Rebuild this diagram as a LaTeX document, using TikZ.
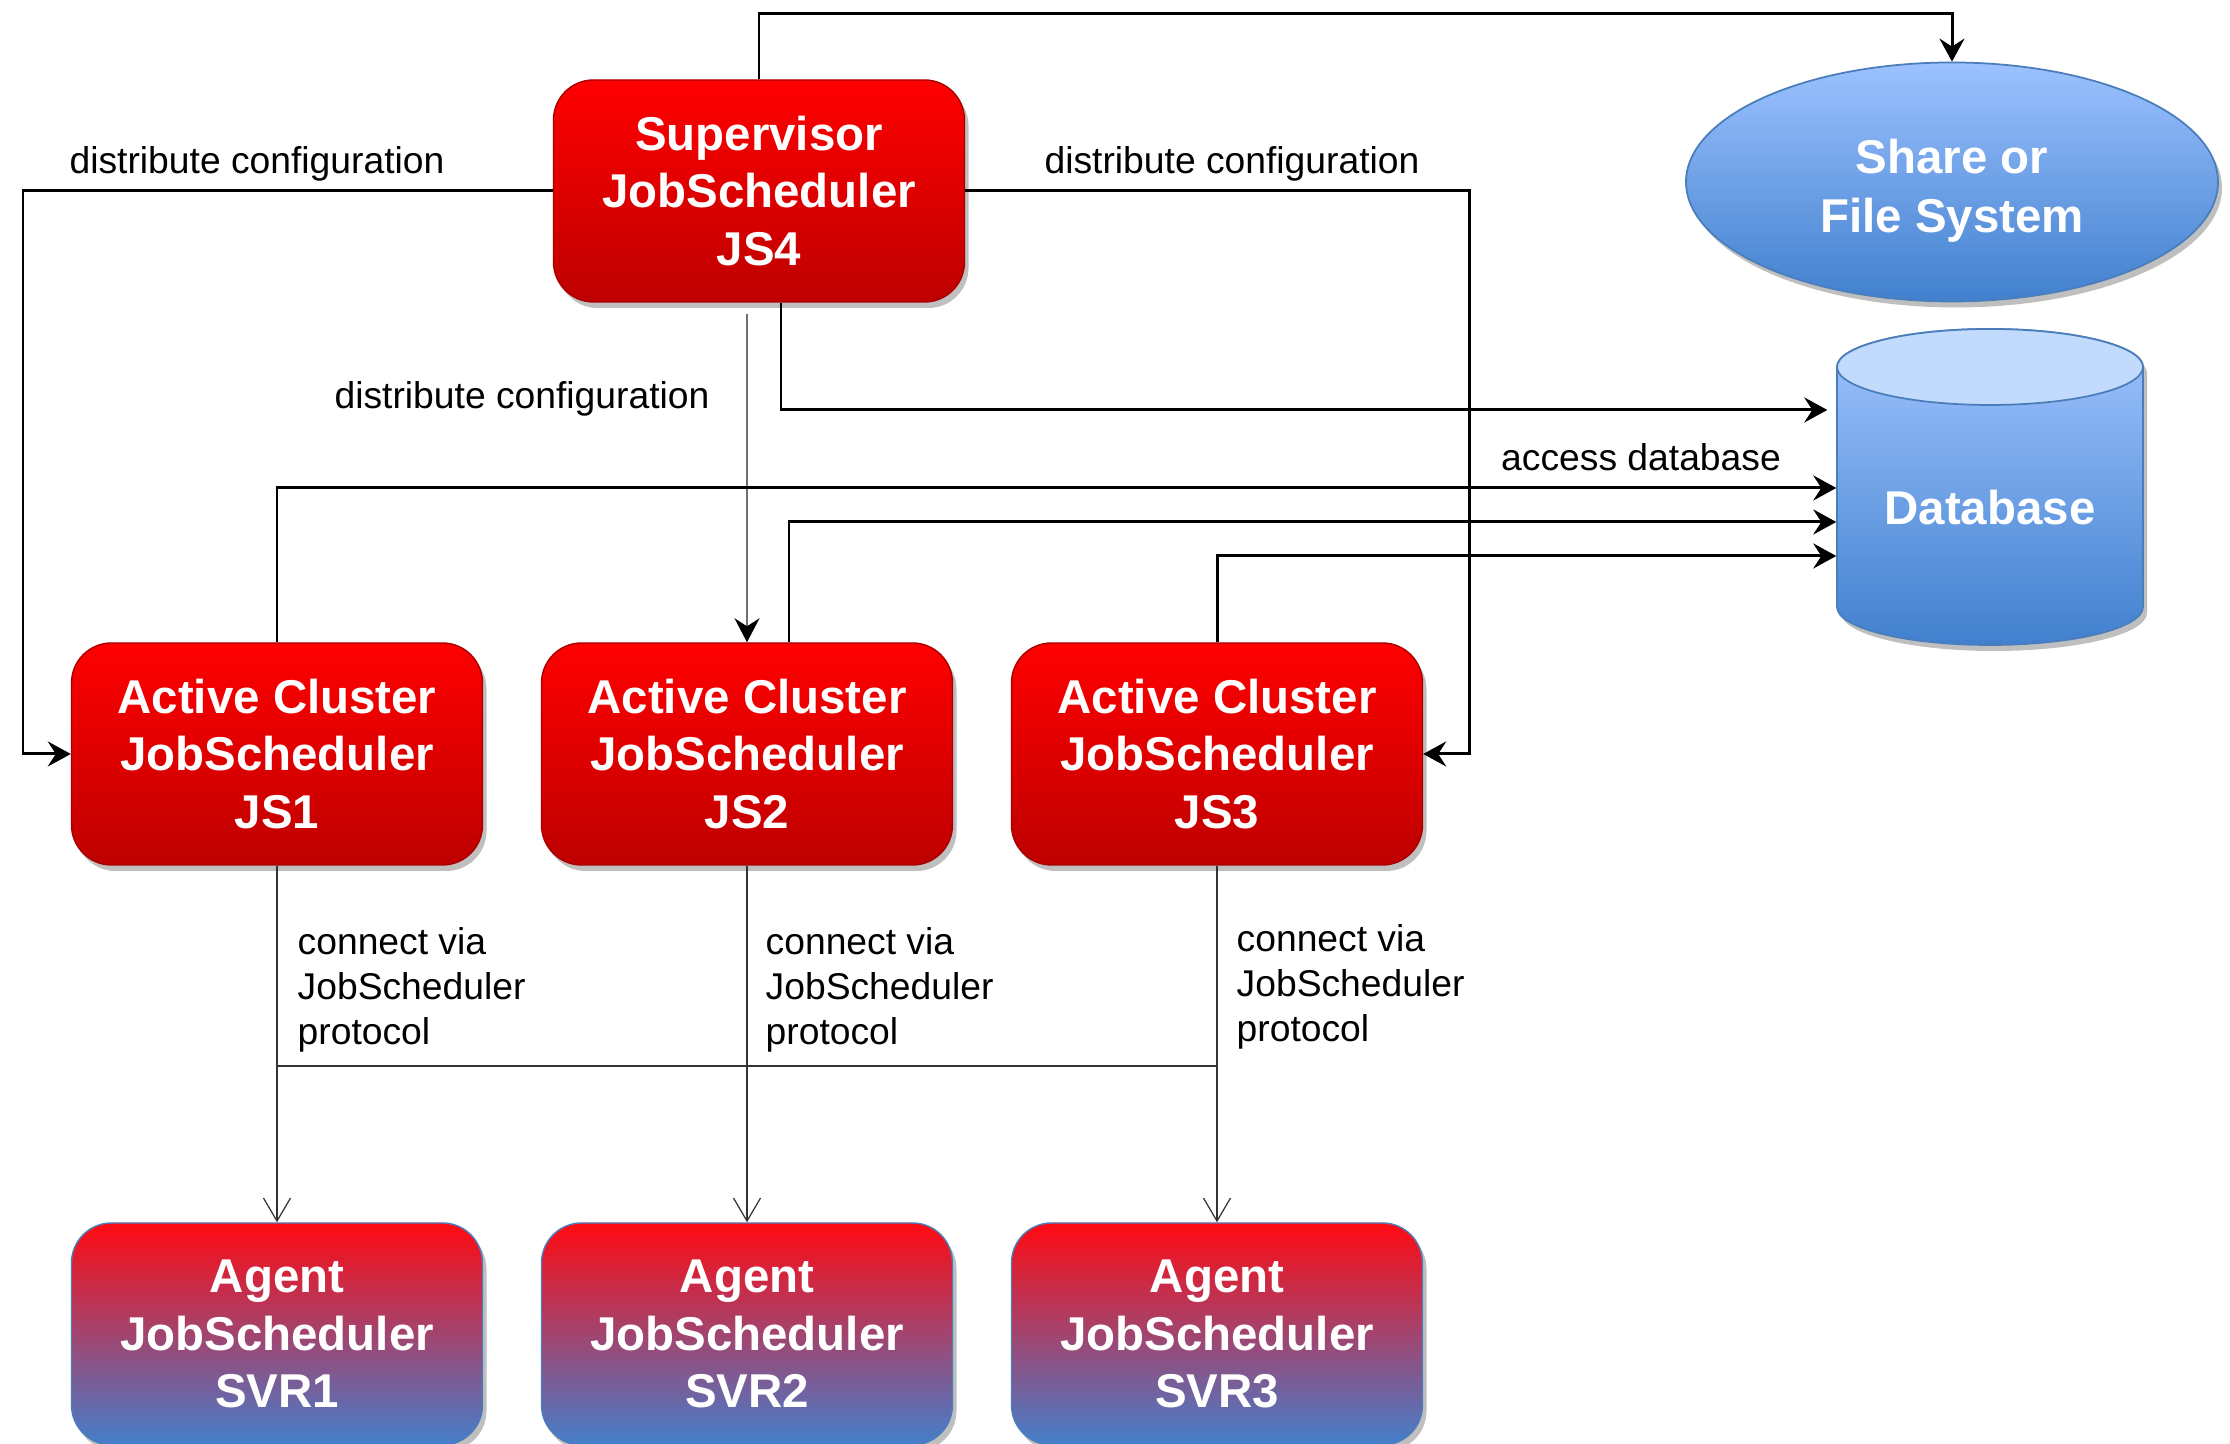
\documentclass[tikz,border=0pt]{standalone}
\usepackage{fontspec}
\setmainfont{Liberation Sans}
\usetikzlibrary{arrows.meta,shapes.geometric,shadows}

\definecolor{jsTop}{HTML}{FF0000}
\definecolor{jsBot}{HTML}{BE0000}
\definecolor{jsLine}{HTML}{A80000}
\definecolor{agTop}{HTML}{FF0A12}
\definecolor{agBot}{HTML}{447FCC}
\definecolor{blLine}{HTML}{4A7EBB}
\definecolor{fsTop}{HTML}{9CC2FF}
\definecolor{fsBot}{HTML}{4180CE}
\definecolor{dbCap}{HTML}{C2DAFB}
\definecolor{thinGray}{HTML}{707070}

\tikzset{
  shadowed/.style={drop shadow={shadow xshift=0.04cm, shadow yshift=-0.06cm, opacity=0.25, fill=black}},
  jsbox/.style={rectangle, rounded corners=0.4cm, minimum width=4.11cm, minimum height=2.22cm,
    top color=jsTop, bottom color=jsBot, draw=jsLine, line width=0.4pt, text=white, align=center,
    font=\bfseries\fontsize{13.5}{16.3}\selectfont, shadowed},
  agbox/.style={jsbox, top color=agTop, bottom color=agBot, draw=blLine},
  lbl/.style={font=\fontsize{10.6}{12.8}\selectfont, inner sep=0pt},
  arr/.style={line width=0.85pt, -{Stealth[length=2.3mm, width=2.5mm, inset=0.8mm]}},
  thinarr/.style={draw=thinGray, line width=0.45pt, -{Stealth[length=2.4mm, width=2.5mm, inset=0.8mm, color=black]}},
  busarr/.style={draw=black!80, line width=0.35pt, -{Straight Barb[length=2.3mm, width=2.7mm, line width=0.35pt]}},
}

\begin{document}
\begin{tikzpicture}
\useasboundingbox (0,0) rectangle (22.30,14.44);

% rails and levels
\coordinate (topline) at (0,14.30);
\coordinate (leftrail) at (0.23,0);
\coordinate (rightrail) at (14.69,0);
\coordinate (lvlS) at (0,10.34);
\coordinate (lvlA) at (0,9.56);
\coordinate (lvlB) at (0,9.22);
\coordinate (lvlC) at (0,8.88);
\coordinate (bus) at (0,3.78);

% supervisor and cluster
\node[jsbox] (sup) at (7.59,12.53) {Supervisor\\JobScheduler\\JS4};
\node[jsbox] (js1) at (2.77,6.90) {Active Cluster\\JobScheduler\\JS1};
\node[jsbox] (js2) at (7.47,6.90) {Active Cluster\\JobScheduler\\JS2};
\node[jsbox] (js3) at (12.17,6.90) {Active Cluster\\JobScheduler\\JS3};

% agents
\node[agbox] (ag1) at (2.77,1.10) {Agent\\JobScheduler\\SVR1};
\node[agbox] (ag2) at (7.47,1.10) {Agent\\JobScheduler\\SVR2};
\node[agbox] (ag3) at (12.17,1.10) {Agent\\JobScheduler\\SVR3};

% file system
\node[ellipse, minimum width=5.32cm, minimum height=2.39cm, inner sep=0pt,
  top color=fsTop, bottom color=fsBot, draw=blLine, line width=0.5pt, shadowed,
  text=white, align=center, font=\bfseries\fontsize{13.5}{17}\selectfont]
  (fs) at (19.52,12.62) {\rule{0pt}{0.52cm}Share or\\File System};

% database
\shadedraw[top color=fsTop!95!white, bottom color=fsBot, draw=blLine, line width=0.5pt, shadowed]
  (18.37,10.77) -- (18.37,8.37) arc[start angle=180, end angle=360, x radius=1.53, y radius=0.38]
  -- (21.43,10.77) arc[start angle=0, end angle=180, x radius=1.53, y radius=0.38] -- cycle;
\filldraw[fill=dbCap, draw=blLine, line width=0.5pt] (19.90,10.77) ellipse[x radius=1.53, y radius=0.38];
\node[minimum width=3.06cm, inner sep=0pt, text=white, font=\bfseries\fontsize{13.5}{16.3}\selectfont]
  (db) at (19.90,9.36) {Database};

%-------------------------------------
\draw[arr] (sup.north) -- (sup.north |- topline) -| (fs.north);
\draw[arr] (sup.west) -- (sup.west -| leftrail) |- (js1.west);
\draw[arr] (sup.east) -- (sup.east -| rightrail) |- (js3.east);
\draw[thinarr] ([yshift=-0.11cm]sup.south -| js2.north) -- (js2.north);
\draw[arr] ([xshift=0.22cm]sup.south) |- ([xshift=-0.09cm]db.west |- lvlS);
\draw[arr] (js1.north) |- (db.west |- lvlA);
\draw[arr] ([xshift=0.42cm]js2.north) |- (db.west |- lvlB);
\draw[arr] (js3.north) |- (db.west |- lvlC);

\node[lbl] (dc1) at (2.57,12.80) {distribute configuration};
\node[lbl] (dc2) at (12.32,12.80) {distribute configuration};
\node[lbl] (dc3) at (5.22,10.45) {distribute configuration};
\node[lbl] (acc) at (16.41,9.87) {access database};

%-------------------------------------
\draw[busarr] (js1.south) -- (ag1.north);
\draw[busarr] (js2.south) -- (ag2.north);
\draw[busarr] (js3.south) -- (ag3.north);
\draw[draw=black!80, line width=0.35pt] (js1.south |- bus) -- (js3.south |- bus);

\node[lbl, anchor=west, align=left] (cv1) at (2.97,4.54) {connect via\\JobScheduler\\protocol};
\node[lbl, anchor=west, align=left] (cv2) at (7.65,4.54) {connect via\\JobScheduler\\protocol};
\node[lbl, anchor=west, align=left] (cv3) at (12.36,4.57) {connect via\\JobScheduler\\protocol};

\end{tikzpicture}
\end{document}
